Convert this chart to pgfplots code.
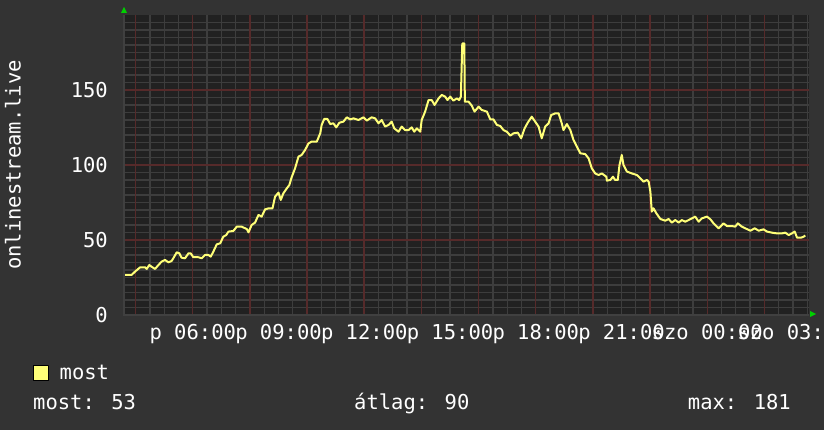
\documentclass[border=0pt]{standalone}
\usepackage{pgfplots}
\usepackage{pgfplotstable}
\pgfplotsset{compat=1.18}
\usepackage{fontspec}
\setmainfont{DejaVu Sans Mono}
\definecolor{bgc}{HTML}{333333}
\definecolor{plotbg}{HTML}{212121}
\definecolor{mingrid}{HTML}{3D3D3D}
\definecolor{majgrid}{HTML}{562A2A}
\definecolor{lineyel}{HTML}{FFFF78}
\definecolor{arrowg}{HTML}{00D000}
\definecolor{axiscol}{HTML}{404040}
\newcommand\rrdfont{\fontsize{20.5bp}{24bp}\selectfont}
\pgfplotstableread{
h v
3.63 26.7
3.86 26.7
3.98 28.9
4.16 31.8
4.33 31.8
4.39 30.7
4.48 33.3
4.56 32.2
4.68 30.7
4.80 33.3
4.91 35.6
5.03 36.7
5.15 35.1
5.26 36.0
5.32 37.8
5.44 41.8
5.53 41.1
5.61 38.2
5.73 37.8
5.85 41.1
5.93 41.1
6.02 38.5
6.20 38.5
6.31 37.8
6.43 40.0
6.55 40.0
6.63 38.9
6.72 42.2
6.84 47.1
6.96 47.8
7.07 52.2
7.17 53.3
7.25 55.6
7.42 56.0
7.54 58.9
7.71 58.9
7.89 57.3
7.95 55.1
8.06 60.0
8.18 61.6
8.30 66.7
8.41 65.6
8.53 70.4
8.65 71.1
8.79 71.1
8.88 78.9
9.00 81.6
9.08 76.7
9.17 81.1
9.29 84.4
9.38 86.7
9.46 91.8
9.58 97.8
9.70 105.6
9.81 106.7
9.93 110.0
10.05 114.4
10.16 115.6
10.34 115.6
10.46 121.1
10.51 126.7
10.60 130.7
10.71 130.7
10.81 127.3
10.92 127.8
11.02 125.1
11.13 128.2
11.27 128.9
11.39 131.8
11.51 130.4
11.62 131.1
11.80 130.0
11.97 131.8
12.09 129.6
12.26 131.8
12.38 131.1
12.50 127.8
12.61 130.0
12.73 125.6
12.85 126.7
12.96 128.9
13.05 124.4
13.20 122.2
13.31 125.6
13.43 123.3
13.55 123.3
13.66 125.1
13.75 122.2
13.84 124.4
13.96 122.2
14.01 130.0
14.13 135.6
14.25 143.3
14.36 143.3
14.46 140.0
14.60 144.4
14.71 146.7
14.83 145.6
14.91 143.3
15.01 145.6
15.12 142.9
15.24 144.4
15.32 143.3
15.38 145.6
15.43 181.0
15.50 181.0
15.52 142.2
15.65 142.2
15.76 139.6
15.86 135.6
16.00 138.9
16.11 136.7
16.29 135.6
16.41 130.4
16.52 130.4
16.64 126.7
16.76 126.0
16.87 123.3
16.99 122.2
17.11 119.6
17.22 121.1
17.37 121.6
17.49 117.8
17.61 124.4
17.72 128.2
17.86 132.2
17.98 128.9
18.10 125.6
18.21 117.8
18.33 125.6
18.45 127.8
18.54 133.3
18.68 134.4
18.80 134.4
18.91 127.8
18.97 123.3
19.09 127.3
19.21 123.3
19.32 116.7
19.44 112.2
19.56 107.8
19.73 107.3
19.85 104.4
19.96 97.8
20.08 94.4
20.20 93.3
20.31 94.4
20.47 92.2
20.49 89.6
20.61 90.0
20.70 92.2
20.78 90.0
20.87 90.0
20.93 100.0
21.01 106.7
21.07 100.0
21.19 95.6
21.36 94.4
21.54 93.3
21.66 91.1
21.77 88.9
21.89 90.0
21.95 88.9
22.01 82.2
22.06 68.9
22.12 71.1
22.22 67.8
22.36 64.0
22.53 62.9
22.65 64.0
22.76 61.6
22.88 63.3
23.00 61.6
23.11 63.3
23.23 62.2
23.35 63.3
23.46 64.4
23.58 65.6
23.70 62.2
23.81 64.4
23.99 65.6
24.11 63.8
24.22 61.1
24.40 57.8
24.57 61.1
24.69 59.3
24.86 59.3
24.98 58.9
25.07 61.1
25.21 58.9
25.33 57.8
25.51 56.2
25.66 57.8
25.80 56.2
25.97 57.1
26.09 55.6
26.26 54.9
26.44 54.4
26.61 54.4
26.73 54.9
26.85 53.3
26.96 54.4
27.06 55.6
27.14 51.6
27.29 51.6
27.37 52.2
27.43 53.0
}\datatable
\begin{document}
\begin{tikzpicture}
\fill[bgc] (0,0) rectangle (824bp,430bp);
\begin{axis}[
  at={(123bp,115bp)}, anchor=south west,
  scale only axis, width=686bp, height=300bp,
  xmin=3.56, xmax=27.56, ymin=0, ymax=200,
  axis line style={draw=none},
  axis background/.style={fill=plotbg},
  tick style={draw=none},
  xtick={6,9,12,15,18,21,24,27},
  xticklabels={p 06:00,p 09:00,p 12:00,p 15:00,p 18:00,p 21:00,szo 00:00,szo 03:00},
  minor xtick={4.5,5,5.5,6.5,7,7.5,8.5,9,9.5,10.5,11,11.5,12.5,13,13.5,14.5,15,15.5,16.5,17,17.5,18.5,19,19.5,20.5,21,21.5,22.5,23,23.5,24.5,25,25.5,26.5,27,27.5},
  xminorgrids=true,
  extra x ticks={4,6,8,10,12,14,16,18,20,22,24,26},
  extra x tick labels={},
  extra x tick style={grid=major},
  ytick={0,50,100,150},
  yticklabels={0,50,100,150},
  minor ytick={5,10,15,20,25,30,35,40,45,55,60,65,70,75,80,85,90,95,105,110,115,120,125,130,135,140,145,155,160,165,170,175,180,185,190,195},
  ymajorgrids=true, yminorgrids=true,
  minor grid style={mingrid, line width=1.3bp},
  major grid style={majgrid, line width=1.5bp},
  tick label style={font=\rrdfont, text=white, inner sep=0pt},
  xticklabel style={anchor=north, yshift=-9bp},
  yticklabel style={anchor=east, xshift=-15bp},
  ylabel={onlinestream.live},
  every axis y label/.style={at={(rel axis cs:0,0.5)}, xshift=-110bp, rotate=90, anchor=center, font=\rrdfont, text=white},
  legend style={at={(axis description cs:-0.1312,-0.1933)}, anchor=west, draw=none, fill=none, text=white, font=\rrdfont, inner sep=0pt, nodes={inner sep=0pt}},
  legend cell align=left,
]
\addplot[lineyel, line width=2bp, line join=round,
  legend image code/.code={\draw[black, fill=lineyel, line width=1bp] (0bp,-7.5bp) rectangle (15bp,7.5bp); \path (25bp,0bp);}]
  table[x=h, y=v] {\datatable};
\addlegendentry{most}
\end{axis}
\draw[axiscol, line width=2bp] (124bp,115bp) -- (124bp,415bp);
\draw[axiscol, line width=2bp] (123bp,115bp) -- (809bp,115bp);
\fill[arrowg] (121bp,417bp) -- (127bp,417bp) -- (124bp,423bp) -- cycle;
\fill[arrowg] (810bp,113bp) -- (810bp,119bp) -- (816bp,116bp) -- cycle;
\node[anchor=base west, text=white, font=\rrdfont, inner sep=0pt] at (33bp,21bp) {most: 53};
\node[anchor=base west, text=white, font=\rrdfont, inner sep=0pt] at (354bp,21bp) {átlag: 90};
\node[anchor=base east, text=white, font=\rrdfont, inner sep=0pt] at (791bp,21bp) {max: 181};
\pgfresetboundingbox
\useasboundingbox (0,0) rectangle (824bp,430bp);
\end{tikzpicture}
\end{document}
